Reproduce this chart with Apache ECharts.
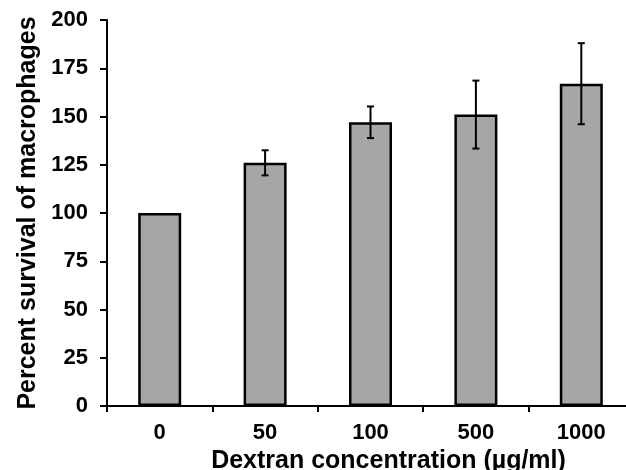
<!DOCTYPE html>
<html>
<head>
<meta charset="utf-8">
<script src="https://cdn.jsdelivr.net/npm/echarts@6/dist/echarts.min.js"></script>
<style>html,body{margin:0;padding:0;background:#fff}#c{width:626px;height:470px}</style>
</head>
<body>
<div id="c"></div>
<script>
const categories = ['0', '50', '100', '500', '1000'];
const means = [100, 126, 147, 151, 167];
const errors = [0, 6.5, 8.2, 17.6, 21];
const yTicks = [0, 25, 50, 75, 100, 125, 150, 175, 200];

const chart = echarts.init(document.getElementById('c'));
const font = 'Liberation Sans, Arial, sans-serif';
chart.setOption({
  animation: false,
  backgroundColor: '#fff',
  grid: { left: 107, right: -8, top: 20, bottom: 64, containLabel: false, outerBoundsMode: 'none' },
  xAxis: {
    type: 'category',
    data: categories,
    name: 'Dextran concentration (µg/ml)',
    nameLocation: 'middle',
    nameGap: 41,
    nameTextStyle: { fontFamily: font, fontWeight: 'bold', fontSize: 25, color: '#000', padding: [0, 0, 0, 36] },
    axisLine: { lineStyle: { color: '#000', width: 2 } },
    axisTick: { show: true, length: 6, lineStyle: { color: '#000', width: 2 } },
    axisLabel: { fontFamily: font, fontWeight: 'bold', fontSize: 22, color: '#000', margin: 16 },
    splitLine: { show: false }
  },
  yAxis: {
    type: 'value',
    min: 0, max: 200, interval: 25,
    name: 'Percent survival of macrophages',
    nameLocation: 'middle',
    nameGap: 66,
    nameTextStyle: { fontFamily: font, fontWeight: 'bold', fontSize: 25, color: '#000', padding: [0, 0, 0, 0] },
    axisLine: { show: true, lineStyle: { color: '#000', width: 2 } },
    axisTick: { show: true, length: 7, lineStyle: { color: '#000', width: 2 } },
    axisLabel: { fontFamily: font, fontWeight: 'bold', fontSize: 22, color: '#000', margin: 19,
      formatter: v => yTicks.includes(v) ? String(v) : '' },
    splitLine: { show: false }
  },
  series: [
    {
      type: 'bar',
      data: means,
      barWidth: 43,
      itemStyle: { color: '#a6a6a6', borderColor: '#000', borderWidth: 2.5 },
      z: 2
    },
    {
      type: 'custom',
      data: means.map((m, i) => [i, m - errors[i], m + errors[i]]),
      renderItem: function (params, api) {
        const i = api.value(0);
        if (errors[i] === 0) return null;
        const lo = api.coord([i, api.value(1)]);
        const hi = api.coord([i, api.value(2)]);
        const x = lo[0];
        const cap = 3.5;
        const style = { stroke: '#000', lineWidth: 2 };
        return {
          type: 'group',
          children: [
            { type: 'line', shape: { x1: x, y1: lo[1], x2: x, y2: hi[1] }, style },
            { type: 'line', shape: { x1: x - cap, y1: hi[1], x2: x + cap, y2: hi[1] }, style },
            { type: 'line', shape: { x1: x - cap, y1: lo[1], x2: x + cap, y2: lo[1] }, style }
          ]
        };
      },
      z: 3
    }
  ]
});
</script>
</body>
</html>
